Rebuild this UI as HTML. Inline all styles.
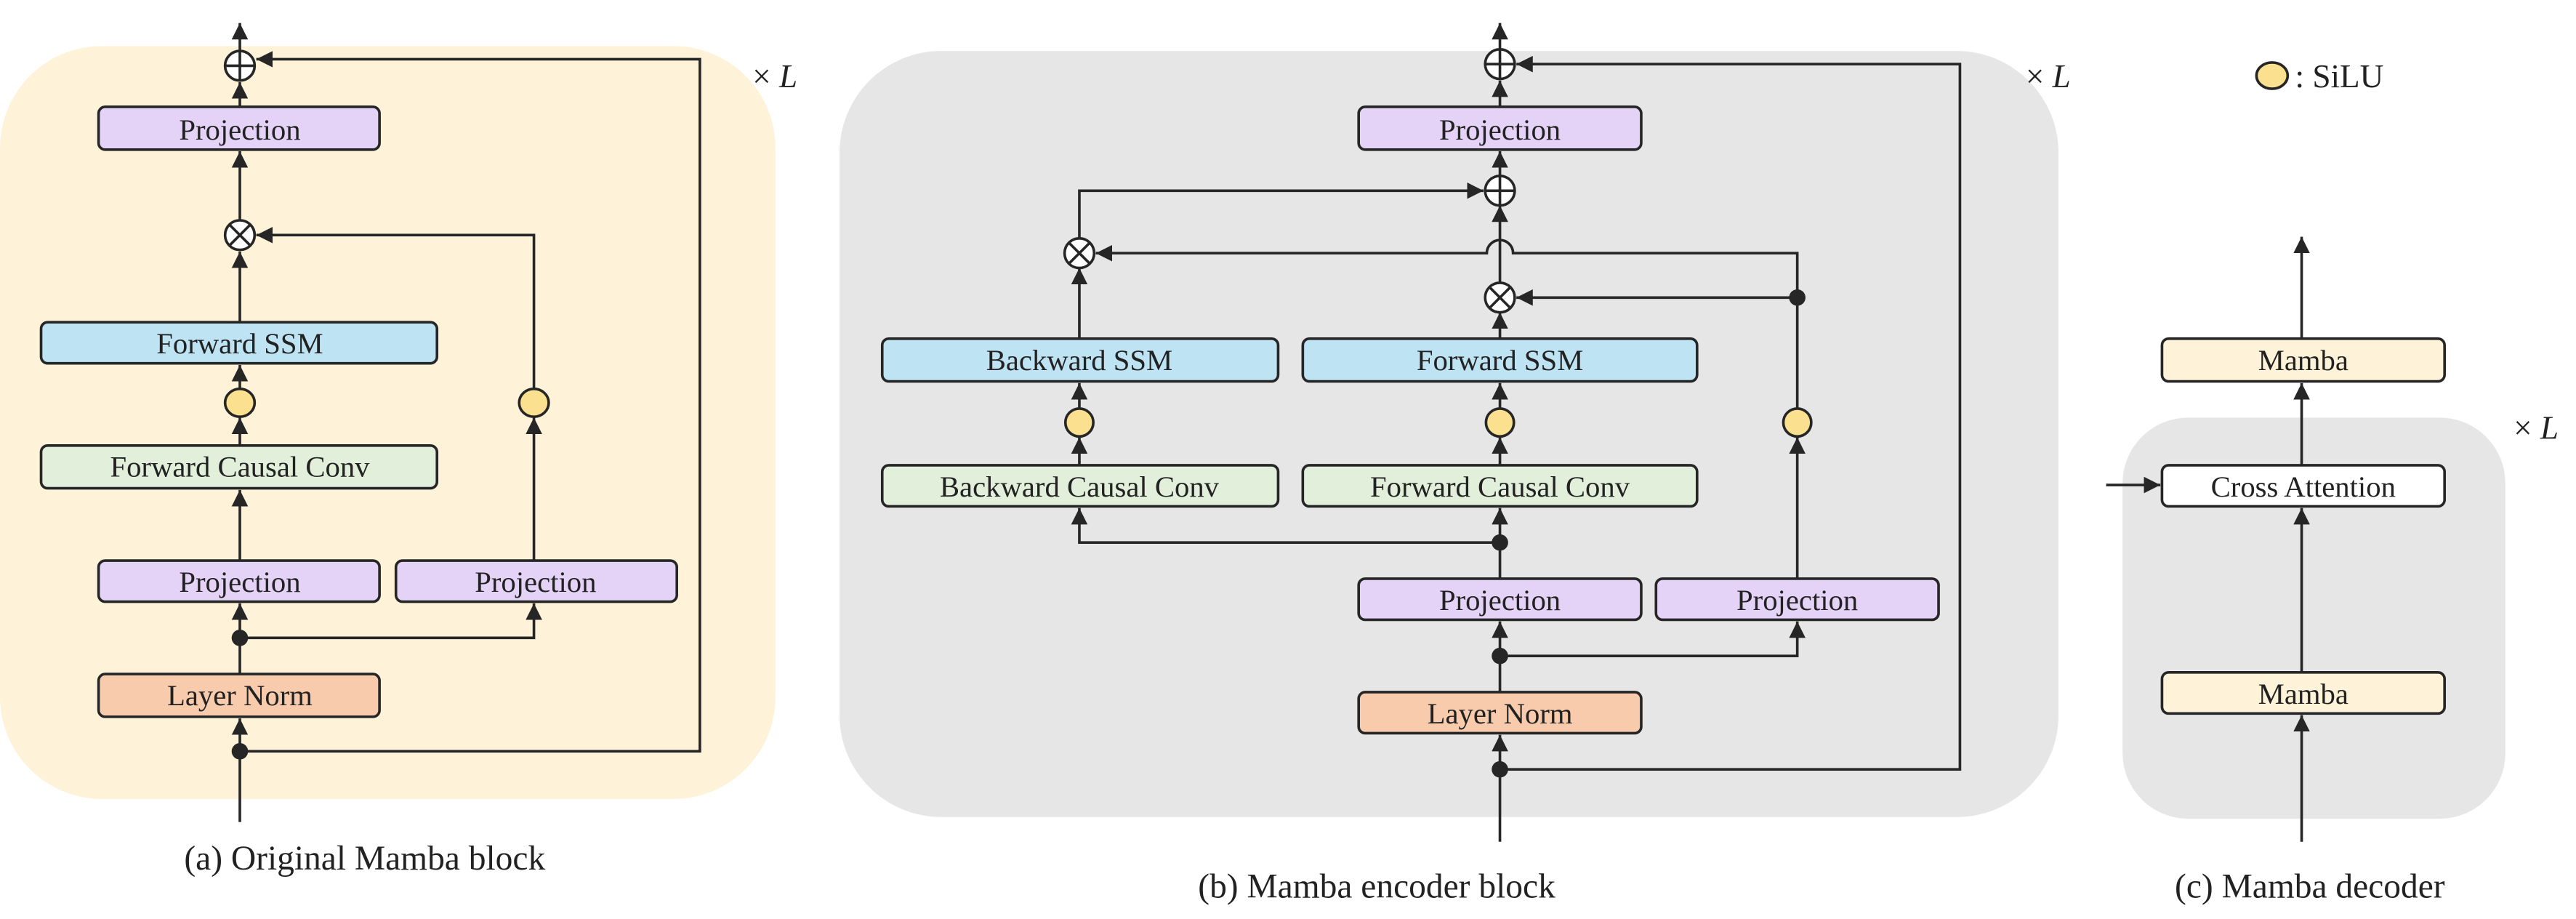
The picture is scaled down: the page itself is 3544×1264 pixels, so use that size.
<!DOCTYPE html>
<html><head><meta charset="utf-8"><style>
html,body{margin:0;padding:0;background:#fff;}
svg{display:block}
text{font-family:"Liberation Serif",serif;fill:#222;}
</style></head><body>
<svg width="3544" height="1264" viewBox="0 0 1568 559" preserveAspectRatio="none" xmlns="http://www.w3.org/2000/svg">
<defs>
<marker id="a" markerUnits="userSpaceOnUse" markerWidth="10" markerHeight="10" refX="10" refY="5" orient="auto">
<path d="M0,0 L10,5 L0,10 z" fill="#262626"/></marker>
</defs>
<rect x="0" y="28" width="472" height="458" rx="62" fill="#FEF3D9"/>
<rect x="511" y="31" width="742" height="466" rx="62" fill="#E6E6E6"/>
<rect x="1292" y="254" width="233" height="244" rx="40" fill="#E6E6E6"/>

<g stroke="#262626" stroke-width="1.6" fill="none">
<path d="M146,500 V437" marker-end="url(#a)"/>
<path d="M146,457 H426 V36 H156" marker-end="url(#a)"/>
<path d="M146,410 V367" marker-end="url(#a)"/>
<path d="M146,388 H325 V367" marker-end="url(#a)"/>
<path d="M146,341 V298" marker-end="url(#a)"/>
<path d="M146,271 V254" marker-end="url(#a)"/>
<path d="M146,237 V222" marker-end="url(#a)"/>
<path d="M146,196 V153" marker-end="url(#a)"/>
<path d="M325,341 V254" marker-end="url(#a)"/>
<path d="M325,237 V143 H156" marker-end="url(#a)"/>
<path d="M146,134 V92" marker-end="url(#a)"/>
<path d="M146,65 V50" marker-end="url(#a)"/>
<path d="M146,31 V14" marker-end="url(#a)"/>
<path d="M913,512 V447" marker-end="url(#a)"/>
<path d="M913,468 H1193 V39 H923" marker-end="url(#a)"/>
<path d="M913,421 V378" marker-end="url(#a)"/>
<path d="M913,399 H1094 V378" marker-end="url(#a)"/>
<path d="M913,352 V309" marker-end="url(#a)"/>
<path d="M913,330 H657 V309" marker-end="url(#a)"/>
<path d="M913,283 V266" marker-end="url(#a)"/>
<path d="M657,283 V266" marker-end="url(#a)"/>
<path d="M913,249 V233" marker-end="url(#a)"/>
<path d="M657,249 V233" marker-end="url(#a)"/>
<path d="M913,206 V190" marker-end="url(#a)"/>
<path d="M657,206 V163" marker-end="url(#a)"/>
<path d="M1094,352 V266" marker-end="url(#a)"/>
<path d="M1094,249 V181 H923" marker-end="url(#a)"/>
<path d="M1094,181 V154 H921 A8,8 0 0 0 905,154 H667" marker-end="url(#a)"/>
<path d="M913,172 V125" marker-end="url(#a)"/>
<path d="M657,145 V116 H903" marker-end="url(#a)"/>
<path d="M913,107 V92" marker-end="url(#a)"/>
<path d="M913,65 V49" marker-end="url(#a)"/>
<path d="M913,30 V14" marker-end="url(#a)"/>
<path d="M1401,512 V435" marker-end="url(#a)"/>
<path d="M1401,409 V309" marker-end="url(#a)"/>
<path d="M1401,283 V233" marker-end="url(#a)"/>
<path d="M1401,206 V144" marker-end="url(#a)"/>
<path d="M1282,295 H1315" marker-end="url(#a)"/>
</g>

<g stroke="#262626" stroke-width="1.6">
<rect x="60" y="65" width="171" height="26" rx="4" fill="#E5D3F7"/>
<rect x="25" y="196" width="241" height="25" rx="4" fill="#BEE3F3"/>
<rect x="25" y="271" width="241" height="26" rx="4" fill="#E2EFDA"/>
<rect x="60" y="341" width="171" height="25" rx="4" fill="#E5D3F7"/>
<rect x="241" y="341" width="171" height="25" rx="4" fill="#E5D3F7"/>
<rect x="60" y="410" width="171" height="26" rx="4" fill="#F7CBAC"/>
<rect x="827" y="65" width="172" height="26" rx="4" fill="#E5D3F7"/>
<rect x="537" y="206" width="241" height="26" rx="4" fill="#BEE3F3"/>
<rect x="793" y="206" width="240" height="26" rx="4" fill="#BEE3F3"/>
<rect x="537" y="283" width="241" height="25" rx="4" fill="#E2EFDA"/>
<rect x="793" y="283" width="240" height="25" rx="4" fill="#E2EFDA"/>
<rect x="827" y="352" width="172" height="25" rx="4" fill="#E5D3F7"/>
<rect x="1008" y="352" width="172" height="25" rx="4" fill="#E5D3F7"/>
<rect x="827" y="421" width="172" height="25" rx="4" fill="#F7CBAC"/>
<rect x="1316" y="206" width="172" height="26" rx="4" fill="#FEF3D9"/>
<rect x="1316" y="283" width="172" height="25" rx="4" fill="#FFFFFF"/>
<rect x="1316" y="409" width="172" height="25" rx="4" fill="#FEF3D9"/>
</g>

<g stroke="#262626" stroke-width="1.6" fill="#fff">
<circle cx="146" cy="40" r="9"/><path d="M137,40 H155 M146,31 V49"/>
<circle cx="146" cy="143" r="9"/><path d="M139.6,136.6 L152.4,149.4 M152.4,136.6 L139.6,149.4"/>
<circle cx="913" cy="39" r="9"/><path d="M904,39 H922 M913,30 V48"/>
<circle cx="913" cy="116" r="9"/><path d="M904,116 H922 M913,107 V125"/>
<circle cx="657" cy="154" r="9"/><path d="M650.6,147.6 L663.4,160.4 M663.4,147.6 L650.6,160.4"/>
<circle cx="913" cy="181" r="9"/><path d="M906.6,174.6 L919.4,187.4 M919.4,174.6 L906.6,187.4"/>
</g>
<g stroke="#262626" stroke-width="1.6" fill="#FBE08F">
<ellipse cx="146" cy="245" rx="9" ry="8.5"/>
<ellipse cx="325" cy="245" rx="9" ry="8.5"/>
<ellipse cx="657" cy="257" rx="8.5" ry="8.5"/>
<ellipse cx="913" cy="257" rx="8.5" ry="8.5"/>
<ellipse cx="1094" cy="257" rx="8.5" ry="8.5"/>
<ellipse cx="1383" cy="46" rx="9.5" ry="8"/>
</g>
<g fill="#262626">
<circle cx="146" cy="388" r="5"/><circle cx="146" cy="457" r="5"/>
<circle cx="1094" cy="181" r="5"/><circle cx="913" cy="330" r="5"/>
<circle cx="913" cy="399" r="5"/><circle cx="913" cy="468" r="5"/>
</g>

<g font-size="18" text-anchor="middle">
<text x="146" y="85">Projection</text>
<text x="146" y="215">Forward SSM</text>
<text x="146" y="290">Forward Causal Conv</text>
<text x="146" y="360">Projection</text>
<text x="326" y="360">Projection</text>
<text x="146" y="429">Layer Norm</text>
<text x="913" y="85">Projection</text>
<text x="657" y="225">Backward SSM</text>
<text x="913" y="225">Forward SSM</text>
<text x="657" y="302">Backward Causal Conv</text>
<text x="913" y="302">Forward Causal Conv</text>
<text x="913" y="371">Projection</text>
<text x="1094" y="371">Projection</text>
<text x="913" y="440">Layer Norm</text>
<text x="1402" y="225">Mamba</text>
<text x="1402" y="302">Cross Attention</text>
<text x="1402" y="428">Mamba</text>
</g>
<g font-size="20">
<text x="458" y="53">× <tspan font-style="italic">L</tspan></text>
<text x="1233" y="53">× <tspan font-style="italic">L</tspan></text>
<text x="1530" y="267">× <tspan font-style="italic">L</tspan></text>
<text x="1397" y="53">: SiLU</text>
</g>
<g font-size="21" text-anchor="middle">
<text x="222" y="529">(a) Original Mamba block</text>
<text x="838" y="546">(b) Mamba encoder block</text>
<text x="1406" y="546">(c) Mamba decoder</text>
</g>
</svg>
</body></html>
